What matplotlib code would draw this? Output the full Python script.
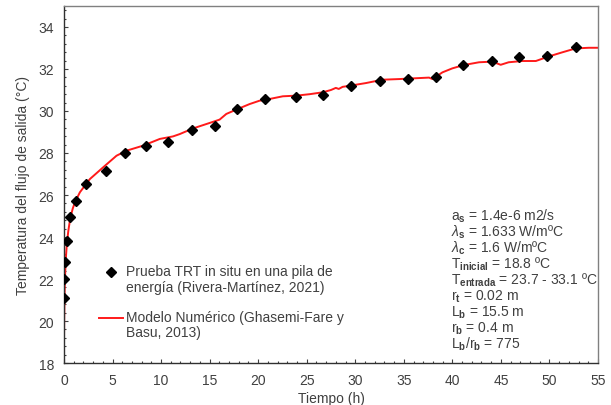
import matplotlib
matplotlib.use("Agg")
import matplotlib.pyplot as plt
from matplotlib.ticker import MultipleLocator
from matplotlib.legend_handler import HandlerLine2D

plt.rcParams['font.family'] = ['Liberation Sans', 'DejaVu Sans']
plt.rcParams['mathtext.fontset'] = 'custom'
plt.rcParams['mathtext.rm'] = 'Liberation Sans'
plt.rcParams['mathtext.it'] = 'Liberation Sans:italic'
plt.rcParams['mathtext.bf'] = 'Liberation Sans:bold'

# Measured data (TRT in situ)
meas_t = [0.0, 0.03, 0.1, 0.35, 0.67, 1.25, 2.3, 4.32, 6.27, 8.4, 10.7, 13.19,
          15.59, 17.85, 20.69, 23.88, 26.7, 29.6, 32.5, 35.4, 38.3, 41.1, 44.06,
          46.9, 49.8, 52.7]
meas_T = [21.1, 22.02, 22.82, 23.82, 24.95, 25.72, 26.51, 27.16, 28.0, 28.33,
          28.52, 29.1, 29.3, 30.1, 30.56, 30.65, 30.75, 31.19, 31.44, 31.52,
          31.6, 32.19, 32.37, 32.56, 32.63, 33.03]

# Numerical model
model_t = [0.0, 0.02, 0.05, 0.1, 0.18, 0.3, 0.45, 0.65, 0.9, 1.13, 1.64, 2.67,
           4.04, 5.41, 6.44, 8.15, 9.87, 11.23, 11.92, 13.29, 15.0, 16.03, 16.72,
           17.92, 19.12, 20.14, 20.83, 22.54, 23.9, 25.3, 26.65, 27.5, 28.0, 28.3,
           28.7, 29.4, 31.1, 32.8, 34.5, 36.25, 37.6, 37.95, 38.98, 40.0, 41.2,
           42.75, 44.1, 44.98, 45.8, 47.2, 48.6, 49.95, 51.3, 52.7, 54.05, 55.0]
model_T = [18.8, 20.0, 21.0, 22.0, 22.9, 23.7, 24.3, 24.9, 25.35, 25.65, 26.13,
           26.76, 27.32, 27.87, 28.11, 28.35, 28.67, 28.79, 28.9, 29.17, 29.43,
           29.59, 29.86, 30.1, 30.33, 30.49, 30.54, 30.7, 30.73, 30.8, 30.89,
           31.0, 31.1, 31.05, 31.15, 31.2, 31.33, 31.49, 31.52, 31.56, 31.59,
           31.52, 31.84, 32.03, 32.19, 32.32, 32.35, 32.2, 32.32, 32.38, 32.38,
           32.6, 32.79, 32.98, 33.01, 33.01]

label_meas = "Prueba TRT in situ en una pila de\nenergía (Rivera-Martínez, 2021)"
label_model = "Modelo Numérico (Ghasemi-Fare y\nBasu, 2013)"

params = [
    r"a$_\mathbf{s}$ = 1.4e-6 m2/s",
    r"$\mathit{\lambda}_\mathbf{s}$ = 1.633 W/mºC",
    r"$\mathit{\lambda}_\mathbf{c}$ = 1.6 W/mºC",
    r"T$_\mathbf{inicial}$ = 18.8 ºC",
    r"T$_\mathbf{entrada}$ = 23.7 - 33.1 ºC",
    r"r$_\mathbf{t}$ = 0.02 m",
    r"L$_\mathbf{b}$ = 15.5 m",
    r"r$_\mathbf{b}$ = 0.4 m",
    r"L$_\mathbf{b}$/r$_\mathbf{b}$ = 775",
]

TXT = '#404040'

fig = plt.figure(figsize=(6.11, 4.06), dpi=100)
ax = fig.add_axes([0.1047, 0.1034, 0.8740, 0.8794])

ln_model, = ax.plot(model_t, model_T, color='#ff1a1a', lw=1.4, zorder=2)
ln_meas, = ax.plot(meas_t, meas_T, linestyle='none', marker='D', ms=5.5,
                   color='black', zorder=3)

ax.set_xlim(0, 55)
ax.set_ylim(18, 35)
ax.xaxis.set_major_locator(MultipleLocator(5))
ax.xaxis.set_minor_locator(MultipleLocator(1))
ax.yaxis.set_major_locator(MultipleLocator(2))
ax.yaxis.set_minor_locator(MultipleLocator(0.4))
ax.tick_params(which='both', direction='in', colors='#404040', labelcolor=TXT,
               labelsize=10, top=False, right=False)
ax.tick_params(which='major', length=2.6, width=0.8, pad=7)
ax.tick_params(which='minor', length=1.6, width=0.8)
for s in ['left', 'bottom']:
    ax.spines[s].set_color('#303030')
    ax.spines[s].set_linewidth(1.0)
for s in ['top', 'right']:
    ax.spines[s].set_color('#808080')
    ax.spines[s].set_linewidth(1.0)

ax.set_xlabel("Tiempo (h)", fontsize=10, color=TXT, labelpad=3)
ax.set_ylabel("Temperatura del flujo de salida (°C)", fontsize=10, color=TXT,
              labelpad=6)


class UpHandler(HandlerLine2D):
    def create_artists(self, legend, orig_handle, xdescent, ydescent, width,
                       height, fontsize, trans):
        return super().create_artists(legend, orig_handle, xdescent,
                                      ydescent - 11.0, width, height,
                                      fontsize, trans)


leg = ax.legend([ln_meas, ln_model], [label_meas, label_model],
                loc='upper left', bbox_to_anchor=(0.0655, 0.276),
                frameon=False, fontsize=10, borderpad=0, borderaxespad=0,
                handlelength=1.75, handletextpad=0.2, labelspacing=1.2,
                numpoints=1,
                handler_map={ln_meas: UpHandler(), ln_model: UpHandler()})
for t in leg.get_texts():
    t.set_color(TXT)
    t.set_linespacing(1.1)

y0 = (364 - 221) / 357.0
dy = 15.9 / 357.0
x0 = (451 - 64) / 534.0
for i, p in enumerate(params):
    ax.text(x0, y0 - i * dy, p, transform=ax.transAxes, fontsize=10,
            color=TXT, ha='left', va='baseline')

fig.savefig("out.png", dpi=100)
